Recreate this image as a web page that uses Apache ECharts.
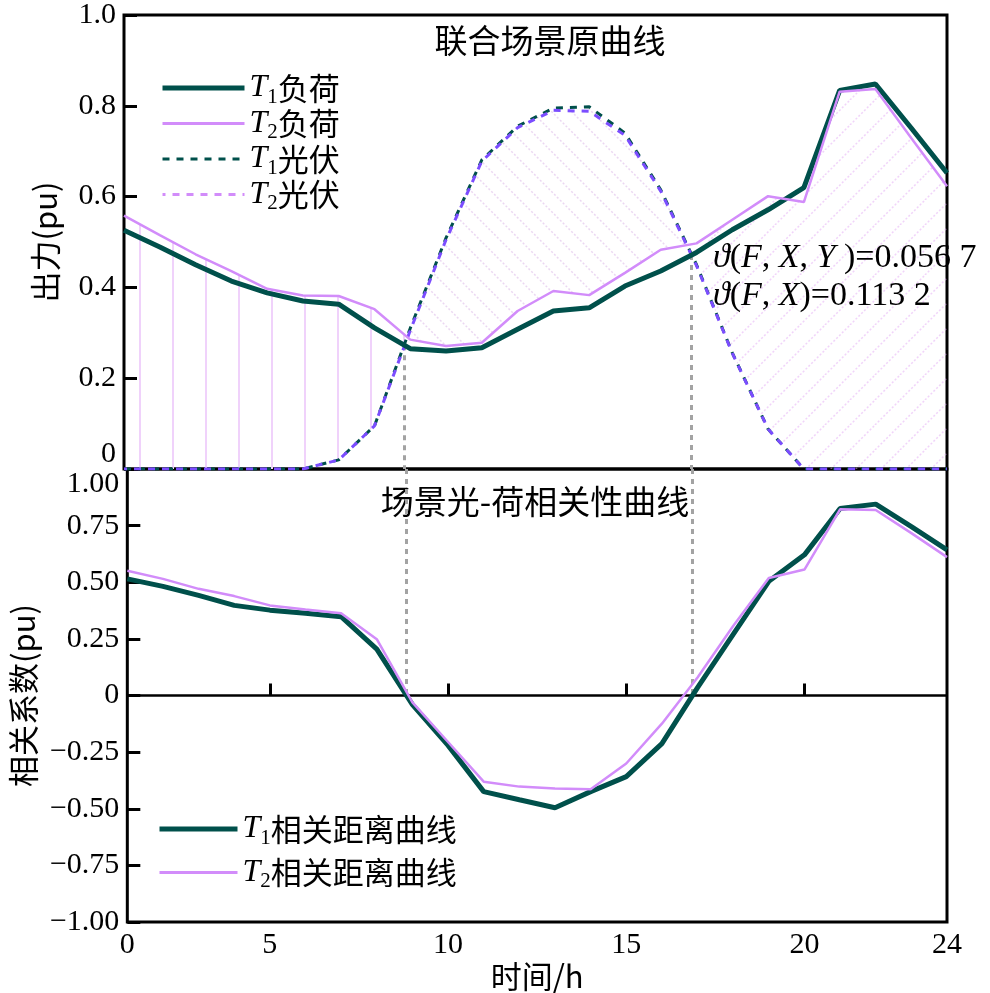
<!DOCTYPE html>
<html><head><meta charset="utf-8">
<script src="https://cdn.jsdelivr.net/npm/echarts@6/dist/echarts.min.js"></script>
<style>html,body{margin:0;padding:0;background:#fff}#c{width:990px;height:993px}</style>
</head><body><div id="c"></div>
<script>
// ---------- data ----------
const hours = [1,2,3,4,5,6,7,8,9,10,11,12,13,14,15,16,17,18,19,20,21,22,23,24];
const xTickValues = [1,5,10,15,20,24];
const xTickLabels = ['0','5','10','15','20','24'];
const loadT1 = [0.526,0.489,0.450,0.414,0.388,0.370,0.363,0.311,0.265,0.260,0.267,0.308,0.348,0.355,0.403,0.436,0.477,0.527,0.571,0.620,0.834,0.848,0.751,0.652];
const loadT2 = [0.558,0.515,0.473,0.436,0.397,0.382,0.381,0.352,0.285,0.271,0.278,0.348,0.392,0.383,0.432,0.483,0.497,0.549,0.601,0.588,0.831,0.837,0.729,0.623];
const pvT1   = [0,0,0,0,0,0,0.020,0.095,0.310,0.509,0.681,0.755,0.795,0.798,0.740,0.615,0.450,0.256,0.088,0,0,0,0,0];
const pvT2   = [0,0,0,0,0,0,0.020,0.095,0.305,0.505,0.678,0.752,0.790,0.788,0.735,0.612,0.448,0.255,0.088,0,0,0,0,0];
const corrT1 = [0.515,0.482,0.442,0.398,0.377,0.363,0.348,0.205,-0.040,-0.220,-0.424,-0.460,-0.495,-0.424,-0.358,-0.212,0.035,0.270,0.504,0.621,0.826,0.845,0.746,0.643];
const corrT2 = [0.551,0.515,0.471,0.439,0.398,0.380,0.363,0.249,-0.030,-0.205,-0.380,-0.402,-0.410,-0.414,-0.300,-0.124,0.080,0.307,0.519,0.556,0.822,0.819,0.717,0.611];
const topNames = ['T1负荷','T2负荷','T1光伏','T2光伏'];
const botNames = ['T1相关距离曲线','T2相关距离曲线'];
const annotValues = ['0.056 7','0.113 2'];

// ---------- helpers ----------
const C_T1 = '#00504b', C_T2 = '#d28cfa', C_PV2 = '#7b4dff';
const serif = 'Liberation Serif', cjk = 'Noto Sans CJK SC';
const pair = arr => hours.map((h,i)=>[h,arr[i]]);
function interp(arr, x){
  for (let i=0;i<hours.length-1;i++){
    if (x>=hours[i] && x<=hours[i+1]){ const t=(x-hours[i])/(hours[i+1]-hours[i]); return arr[i]+(arr[i+1]-arr[i])*t; }
  }
  return arr[arr.length-1];
}
function zeroCrossings(arr){
  const out=[];
  for (let i=0;i<arr.length-1;i++){
    if (arr[i]*arr[i+1]<0){ const t=arr[i]/(arr[i]-arr[i+1]); out.push(hours[i]+t*(hours[i+1]-hours[i])); }
  }
  return out;
}
// regions between loadT2 and pvT1, split at their crossings
function regions(a,b){
  const regs=[]; let cur=[[hours[0],a[0],b[0]]];
  for (let i=0;i<hours.length-1;i++){
    const d0=a[i]-b[i], d1=a[i+1]-b[i+1];
    if (d0*d1<0){
      const t=d0/(d0-d1); const xc=hours[i]+t*(hours[i+1]-hours[i]); const yc=a[i]+t*(a[i+1]-a[i]);
      cur.push([xc,yc,yc]); regs.push(cur); cur=[[xc,yc,yc]];
    }
    cur.push([hours[i+1],a[i+1],b[i+1]]);
  }
  regs.push(cur); return regs;
}
function makePattern(kind){
  const c=document.createElement('canvas'); const ctx=c.getContext('2d');
  if (kind==='v'){ c.width=33; c.height=8; ctx.fillStyle='#f0d2fb'; ctx.fillRect(7,0,2,8); }
  else {
    const s = kind==='b'?20:25; c.width=s; c.height=s;
    ctx.strokeStyle = kind==='b'?'rgba(215,175,230,0.5)':'rgba(228,170,245,0.5)';
    ctx.lineWidth=1.5; ctx.setLineDash([2,2]);
    for (const k of [-1,0,1]){
      ctx.beginPath();
      if (kind==='b'){ ctx.moveTo(k*s,0); ctx.lineTo(k*s+s,s); } else { ctx.moveTo(k*s,s); ctx.lineTo(k*s+s,0); }
      ctx.stroke();
    }
  }
  return {image:c, repeat:'repeat'};
}
const patterns=[makePattern('v'),makePattern('b'),makePattern('f')];

const series=[];
regions(loadT2,pvT1).forEach((reg,ri)=>{
  series.push({type:'custom', xAxisIndex:0, yAxisIndex:0, silent:true, z:1, clip:true,
    data:[[reg[0][0], reg[0][1]]],
    renderItem:(params, api)=>{
      const up = reg.map(p=>api.coord([p[0],p[1]]));
      const lo = reg.slice().reverse().map(p=>api.coord([p[0],p[2]]));
      return {type:'polygon', shape:{points:up.concat(lo)}, style:{fill:patterns[Math.min(ri,2)], stroke:null}};
    }});
});

const crossX = zeroCrossings(corrT1);
const dotStyle = {color:'#a3a3a3', width:3, type:[5,5]};

series.push({name:topNames[2], type:'line', xAxisIndex:0, yAxisIndex:0, data:pair(pvT1), symbol:'none', z:3, color:C_T1,
  lineStyle:{color:C_T1, width:3, type:[7,7]}});
series.push({name:topNames[3], type:'line', xAxisIndex:0, yAxisIndex:0, data:pair(pvT2), symbol:'none', z:3, color:C_PV2,
  lineStyle:{color:C_PV2, width:3, type:[7,7], dashOffset:4}});
series.push({name:topNames[0], type:'line', xAxisIndex:0, yAxisIndex:0, data:pair(loadT1), symbol:'none', z:4, color:C_T1,
  lineStyle:{color:C_T1, width:5},
  markLine:{silent:true, symbol:['none','none'], label:{show:false}, lineStyle:dotStyle, z:2,
    data:crossX.map(x=>[{coord:[x,interp(loadT1,x)]},{coord:[x,0]}])}});
series.push({name:topNames[1], type:'line', xAxisIndex:0, yAxisIndex:0, data:pair(loadT2), symbol:'none', z:5, color:C_T2,
  lineStyle:{color:C_T2, width:2.5}});

series.push({name:botNames[0], type:'line', xAxisIndex:1, yAxisIndex:1, data:pair(corrT1), symbol:'none', z:4, color:C_T1,
  lineStyle:{color:C_T1, width:5},
  markLine:{silent:true, symbol:['none','none'], label:{show:false}, z:2,
    data:[{yAxis:0, lineStyle:{color:'#000', width:2.5, type:'solid'}}]
      .concat(crossX.map(x=>[{coord:[x,1],lineStyle:dotStyle},{coord:[x,0]}]))}});
series.push({name:botNames[1], type:'line', xAxisIndex:1, yAxisIndex:1, data:pair(corrT2), symbol:'none', z:5, color:C_T2,
  lineStyle:{color:C_T2, width:2.5}});

const labelFont = {fontFamily:serif, fontSize:30, color:'#000'};
const nameFont = {fontFamily:cjk, fontSize:31, color:'#000'};
const tickStyle = {color:'#000', width:3};
const legRich = {
  t:{fontFamily:serif, fontStyle:'italic', fontSize:32, color:'#000'},
  s:{fontFamily:serif, fontSize:21, color:'#000', padding:[18,0,0,0]},
  c:{fontFamily:cjk, fontSize:31, color:'#000'}
};
const legFmt = n => '{t|T}{s|'+n[1]+'}{c|'+n.slice(2)+'}';
const hideSym = {color:'rgba(0,0,0,0)', borderWidth:0, opacity:0};

const annRich = {
  i:{fontFamily:serif, fontStyle:'italic', fontSize:34, fill:'#000'},
  n:{fontFamily:serif, fontSize:34, fill:'#000'}
};

const option = {
  animation:false,
  backgroundColor:'#fff',
  grid:[
    {left:124, right:43, top:15, height:454, show:true, borderColor:'#000', borderWidth:3, backgroundColor:'transparent'},
    {left:124, right:43, top:469, height:455, show:true, borderColor:'#000', borderWidth:3, backgroundColor:'transparent'}
  ],
  xAxis:[
    {gridIndex:0, type:'value', min:1, max:24, axisLine:{show:false}, axisTick:{show:false}, axisLabel:{show:false}, splitLine:{show:false}},
    {gridIndex:1, type:'value', min:1, max:24, axisLine:{show:false}, splitLine:{show:false},
     axisTick:{show:true, inside:true, length:12, lineStyle:tickStyle, customValues:xTickValues.slice(1,-1)},
     axisLabel:Object.assign({customValues:xTickValues, margin:8, formatter:v=>xTickLabels[xTickValues.indexOf(v)]}, labelFont),
     name:'时间/h', nameLocation:'middle', nameGap:37, nameTextStyle:nameFont}
  ],
  yAxis:[
    {gridIndex:0, type:'value', min:0, max:1, interval:0.2, axisLine:{show:false}, splitLine:{show:false},
     axisTick:{show:true, inside:true, length:13, lineStyle:tickStyle},
     axisLabel:Object.assign({margin:8, verticalAlignMinLabel:'bottom', formatter:v=>v===0?'0':v.toFixed(1)}, labelFont),
     name:'出力(pu)', nameLocation:'middle', nameGap:63, nameTextStyle:nameFont},
    {gridIndex:1, type:'value', min:-1, max:1, interval:0.25, axisLine:{show:false}, splitLine:{show:false},
     axisTick:{show:true, inside:true, length:13, lineStyle:tickStyle},
     axisLabel:Object.assign({margin:8, verticalAlignMaxLabel:'top', formatter:v=>v===0?'0':(v<0?'\u2212':'')+Math.abs(v).toFixed(2)}, labelFont),
     name:'相关系数(pu)', nameLocation:'middle', nameGap:88, nameTextStyle:nameFont}
  ],
  legend:[
    {data:[{name:topNames[0], lineStyle:{width:5}},
           {name:topNames[1], lineStyle:{width:3}},
           {name:topNames[2], lineStyle:{width:3}},
           {name:topNames[3], lineStyle:{color:C_T2, width:3}}],
     orient:'vertical', left:155, top:67, itemWidth:82, itemHeight:20, itemGap:0, selectedMode:false,
     itemStyle:hideSym, formatter:legFmt, textStyle:{rich:legRich}},
    {data:[{name:botNames[0], lineStyle:{width:5}}, {name:botNames[1], lineStyle:{width:3}}],
     orient:'vertical', left:152, top:808, itemWidth:78, itemHeight:20, itemGap:8, selectedMode:false,
     itemStyle:hideSym, formatter:legFmt, textStyle:{rich:legRich}}
  ],
  graphic:[
    {type:'text', x:550, y:40, silent:true, style:{text:'联合场景原曲线', fontFamily:cjk, fontSize:33, fill:'#000', align:'center', verticalAlign:'middle'}},
    {type:'text', x:535, y:501, silent:true, style:{text:'场景光-荷相关性曲线', fontFamily:cjk, fontSize:33, fill:'#000', align:'center', verticalAlign:'middle'}},
    {type:'text', x:713, y:258, silent:true, z:10, style:{text:'{i|ϑ}{n|(}{i|F}{n|, }{i|X}{n|, }{i|Y}{n| )='+annotValues[0]+'}', rich:annRich, align:'left', verticalAlign:'middle'}},
    {type:'text', x:713, y:296, silent:true, z:10, style:{text:'{i|ϑ}{n|(}{i|F}{n|, }{i|X}{n|)='+annotValues[1]+'}', rich:annRich, align:'left', verticalAlign:'middle'}}
  ],
  series:series
};
const chart = echarts.init(document.getElementById('c'), null, {renderer:'canvas'});
chart.setOption(option);
</script></body></html>
